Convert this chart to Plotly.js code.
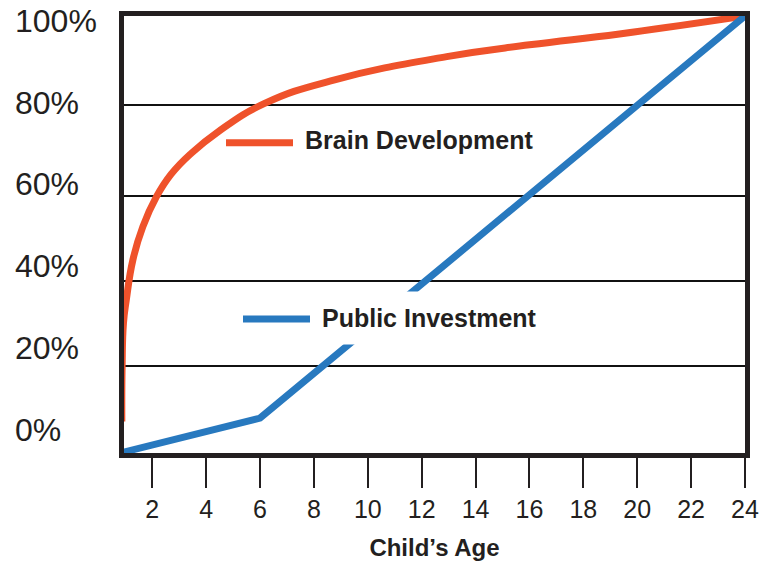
<!DOCTYPE html>
<html>
<head>
<meta charset="utf-8">
<script src="https://cdn.plot.ly/plotly-3.0.1.min.js"></script>
<style>html,body{margin:0;padding:0;background:#fff;}#chart{width:777px;height:563px;}</style>
</head>
<body>
<div id="chart"></div>
<script>
// ---- data ----
const brainAge = [0.87, 0.88, 0.93, 1.035, 1.28, 1.65, 2.15, 2.70, 3.45, 4.44, 6.17, 8.77, 12.93, 16.0, 19.34, 24];
const brainPct = [7.2, 19.7, 29.7, 35.0, 44.2, 51.8, 58.6, 63.8, 68.6, 73.5, 80.0, 85.4, 90.7, 93.4, 95.9, 100];
const investAge = [0.8, 6, 24];
const investPct = [0, 8, 100];
const xTickVals = [2, 4, 6, 8, 10, 12, 14, 16, 18, 20, 22, 24];
// horizontal rules as drawn in the reference (slightly uneven)
const yGridVals = [19.8, 39.3, 58.8, 79.6];
const yTickLabels = ['0%', '20%', '40%', '60%', '80%', '100%'];
const seriesNames = ['Brain Development', 'Public Investment'];
const xTitle = 'Child\u2019s Age';

const ORANGE = '#ef522b';
const BLUE = '#2879bf';
const INK = '#231f20';
const BOLD = 'Liberation Sans, Arial, Helvetica, sans-serif';
const REG = 'Liberation Sans, Arial, Helvetica, sans-serif';

// plot area in pixels (for converting layout pixel spots to paper coords)
const L = 124, R = 745, T = 16, B = 453;
const px = p => (p - L) / (R - L);
const py = p => (B - p) / (B - T);

const traces = [
  {x: brainAge, y: brainPct, type: 'scatter', mode: 'lines', name: seriesNames[0],
   line: {color: ORANGE, width: 7, shape: 'spline', smoothing: 1.3}, hoverinfo: 'skip'},
  {x: investAge, y: investPct, type: 'scatter', mode: 'lines', name: seriesNames[1],
   line: {color: BLUE, width: 7}, hoverinfo: 'skip'}
];

const annotations = [];
yTickLabels.forEach((t, i) => {
  annotations.push({text: t, xref: 'paper', yref: 'paper', x: px(13), y: py(429.5 - i * 81.7),
    xanchor: 'left', yanchor: 'middle', showarrow: false,
    font: {family: REG, size: 32, color: INK}});
});
annotations.push({text: seriesNames[0], xref: 'paper', yref: 'paper', x: px(303), y: py(140),
  xanchor: 'left', yanchor: 'middle', showarrow: false,
  font: {family: BOLD, size: 25, color: INK, weight: 700}});
annotations.push({text: seriesNames[1], xref: 'paper', yref: 'paper', x: px(321), y: py(318),
  xanchor: 'left', yanchor: 'middle', showarrow: false, bgcolor: '#ffffff', borderpad: 0, height: 52,
  font: {family: BOLD, size: 25, color: INK, weight: 700}});

const shapes = [
  {type: 'line', xref: 'paper', yref: 'paper', x0: px(226), x1: px(293), y0: py(142.7), y1: py(142.7),
   line: {color: ORANGE, width: 7}},
  {type: 'line', xref: 'paper', yref: 'paper', x0: px(243), x1: px(310), y0: py(319), y1: py(319),
   line: {color: BLUE, width: 7}}
];

const layout = {
  width: 777, height: 563,
  margin: {l: L, r: 777 - R, t: T, b: 563 - B, pad: 0},
  paper_bgcolor: '#ffffff', plot_bgcolor: '#ffffff',
  showlegend: false,
  xaxis: {
    range: [0.95, 24.0], tickvals: xTickVals, ticktext: xTickVals.map(String),
    ticks: 'outside', ticklen: 30, tickwidth: 2, tickcolor: INK,
    showline: true, linewidth: 5, linecolor: INK, mirror: true,
    showgrid: false, zeroline: false,
    tickfont: {family: REG, size: 25, color: INK},
    title: {text: xTitle, font: {family: BOLD, size: 24, color: INK, weight: 700}, standoff: 19},
    fixedrange: true
  },
  yaxis: {
    range: [0, 100], tickvals: yGridVals, showticklabels: false, ticks: '',
    showgrid: true, gridcolor: '#111111', gridwidth: 2,
    showline: true, linewidth: 5, linecolor: INK, mirror: true, zeroline: false,
    fixedrange: true
  },
  annotations: annotations,
  shapes: shapes
};

Plotly.newPlot('chart', traces, layout, {displayModeBar: false, staticPlot: true});
</script>
</body>
</html>
